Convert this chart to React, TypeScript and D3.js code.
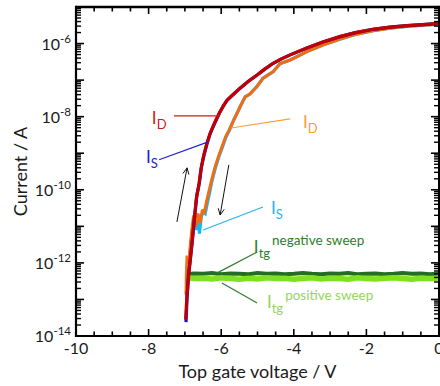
import React, { useEffect, useRef } from "react";
import * as d3 from "d3";

// drain / source currents, exponents of 10 (A) against top gate voltage (V)
const idNegV = [-6.98, -6.95, -6.9, -6.86, -6.8, -6.74, -6.68, -6.62, -6.56, -6.48, -6.4, -6.32, -6.24, -6.16, -6.06, -5.95, -5.84, -5.7, -5.48, -5.25, -5.01, -4.8, -4.57, -4.34, -4.1, -3.64, -3.2, -2.73, -2.3, -1.82, -1.35, -0.88, -0.45, 0];
const idNegLog = [-13.55, -13.0, -12.4, -12.0, -11.4, -10.8, -10.2, -9.9, -9.45, -9.05, -8.75, -8.5, -8.3, -8.12, -7.92, -7.72, -7.55, -7.42, -7.22, -7.03, -6.86, -6.7, -6.54, -6.42, -6.31, -6.12, -5.96, -5.81, -5.7, -5.61, -5.55, -5.51, -5.48, -5.45];

const isNegV = [-6.97, -6.94, -6.9, -6.85, -6.79, -6.73, -6.67, -6.6, -6.54, -6.46, -6.38, -6.3, -6.22, -6.14, -6.05, -5.94, -5.84, -5.7, -5.48, -5.25, -5.01, -4.8, -4.57, -4.34, -4.1, -3.64, -3.2, -2.73, -2.3, -1.82, -1.35, -0.88, -0.45, 0];
const isNegLog = [-13.62, -12.95, -12.3, -11.9, -11.35, -10.7, -10.15, -9.8, -9.35, -9.0, -8.7, -8.45, -8.27, -8.1, -7.9, -7.71, -7.55, -7.42, -7.22, -7.03, -6.86, -6.7, -6.54, -6.42, -6.31, -6.12, -5.96, -5.81, -5.7, -5.61, -5.55, -5.51, -5.48, -5.45];

const idPosV = [-6.97, -6.96, -6.94, -6.9, -6.86, -6.8, -6.76, -6.7, -6.64, -6.58, -6.52, -6.46, -6.4, -6.34, -6.26, -6.17, -6.08, -5.98, -5.88, -5.78, -5.66, -5.56, -5.48, -5.34, -5.21, -5.02, -4.85, -4.57, -4.38, -4.1, -3.64, -3.2, -2.73, -2.3, -1.82, -1.35, -0.88, -0.45, 0];
const idPosLog = [-12.85, -12.3, -11.8, -12.2, -11.6, -11.0, -10.7, -11.0, -10.65, -10.9, -10.55, -10.6, -10.3, -10.05, -9.72, -9.38, -9.1, -8.83, -8.55, -8.36, -8.1, -7.9, -7.73, -7.46, -7.38, -7.18, -6.95, -6.77, -6.55, -6.45, -6.22, -6.04, -5.88, -5.75, -5.65, -5.58, -5.53, -5.5, -5.47];

const isPosV = [-6.96, -6.93, -6.88, -6.84, -6.78, -6.74, -6.68, -6.62, -6.6, -6.55, -6.5, -6.44, -6.38, -6.32, -6.25, -6.16, -6.07, -5.97, -5.87, -5.77, -5.66, -5.56, -5.48, -5.34, -5.21, -5.02, -4.85, -4.57, -4.38, -4.1, -3.64, -3.2, -2.73, -2.3, -1.82, -1.35, -0.88, -0.45, 0];
const isPosLog = [-12.9, -12.25, -12.1, -11.55, -11.05, -10.85, -11.1, -10.8, -11.2, -10.75, -10.6, -10.65, -10.35, -10.08, -9.74, -9.4, -9.11, -8.84, -8.56, -8.37, -8.1, -7.9, -7.73, -7.46, -7.38, -7.18, -6.95, -6.77, -6.55, -6.45, -6.22, -6.04, -5.88, -5.75, -5.65, -5.58, -5.53, -5.5, -5.47];

// top gate leakage
const itgV = [-6.98, -6.75, -6.5, -6.25, -6, -5.75, -5.5, -5.25, -5, -4.75, -4.5, -4.25, -4, -3.75, -3.5, -3.25, -3, -2.75, -2.5, -2.25, -2, -1.75, -1.5, -1.25, -1, -0.75, -0.5, -0.25, 0];
const itgNegLog = [-12.31, -12.29, -12.3, -12.28, -12.31, -12.29, -12.3, -12.31, -12.28, -12.3, -12.29, -12.31, -12.3, -12.28, -12.3, -12.31, -12.29, -12.3, -12.28, -12.31, -12.3, -12.29, -12.31, -12.3, -12.28, -12.3, -12.29, -12.31, -12.29];
const itgPosLog = [-12.4, -12.43, -12.42, -12.44, -12.41, -12.43, -12.45, -12.42, -12.44, -12.41, -12.43, -12.42, -12.45, -12.43, -12.41, -12.44, -12.42, -12.43, -12.45, -12.41, -12.43, -12.44, -12.42, -12.41, -12.43, -12.45, -12.42, -12.43, -12.42];

const xLabels = [-10, -8, -6, -4, -2, 0];
const yLabelExps = [-14, -12, -10, -8, -6];

const App: React.FC = () => {
  const svgRef = useRef<SVGSVGElement | null>(null);

  useEffect(() => {
    const width = 440;
    const height = 386;
    const marginTop = 7;
    const marginRight = 1;
    const marginBottom = 50;
    const marginLeft = 76;
    const font = "Lato, 'Open Sans', sans-serif";

    const x = d3.scaleLinear().domain([-10, 0]).range([marginLeft, width - marginRight]);
    const y = d3.scaleLog().domain([1e-14, 1e-5]).range([height - marginBottom, marginTop]);
    const yl = (e: number) => y(Math.pow(10, e));

    const svg = d3.select(svgRef.current);
    svg.selectAll("*").remove();
    svg.attr("viewBox", [0, 0, width, height]).attr("width", width).attr("height", height);

    const line = d3
      .line<[number, number]>()
      .x((d) => x(d[0]))
      .y((d) => yl(d[1]));

    const series = (vs: number[], ls: number[], color: string, w: number) => {
      svg
        .append("path")
        .datum(vs.map((v, i) => [v, ls[i]] as [number, number]))
        .attr("d", line)
        .attr("fill", "none")
        .attr("stroke", color)
        .attr("stroke-width", w)
        .attr("stroke-linejoin", "miter")
        .attr("stroke-miterlimit", 2);
    };

    // gate currents
    series(itgV, itgNegLog, "#236e23", 4);
    series(itgV, itgPosLog, "#7ee01e", 5.5);

    // drain/source
    series(isPosV, isPosLog, "#1ab4f0", 3.2);
    series(idPosV, idPosLog, "#f26c12", 3);
    series(isNegV, isNegLog, "#1010d8", 3.2);
    series(idNegV, idNegLog, "#c00000", 3.2);

    // frame
    const x0 = x(-10), x1 = x(0), y0 = y(1e-14), y1 = y(1e-5);
    const frame = svg.append("g").attr("stroke", "#000").attr("fill", "none");
    frame.append("line").attr("x1", x0).attr("x2", x1).attr("y1", y0).attr("y2", y0).attr("stroke-width", 2);
    frame.append("line").attr("x1", x0).attr("x2", x1).attr("y1", y1).attr("y2", y1).attr("stroke-width", 2.5);
    frame.append("line").attr("x1", x0).attr("x2", x0).attr("y1", y0 + 1).attr("y2", y1 - 1.2).attr("stroke-width", 2.2);
    frame.append("line").attr("x1", x1).attr("x2", x1).attr("y1", y0 + 1).attr("y2", y1 - 1.2).attr("stroke-width", 2);

    // x ticks
    const xTicks = d3.range(-10, 0.001, 0.5);
    xTicks.forEach((t) => {
      const major = xLabels.includes(t);
      const len = major ? 7 : 4.5;
      frame.append("line").attr("x1", x(t)).attr("x2", x(t)).attr("y1", y0).attr("y2", y0 - len).attr("stroke-width", 1.6);
      frame.append("line").attr("x1", x(t)).attr("x2", x(t)).attr("y1", y1).attr("y2", y1 + len).attr("stroke-width", 1.6);
    });

    // y ticks
    for (let e = -14; e <= -5; e++) {
      const v = Math.pow(10, e);
      frame.append("line").attr("x1", x0).attr("x2", x0 + 8).attr("y1", y(v)).attr("y2", y(v)).attr("stroke-width", 1.6);
      frame.append("line").attr("x1", x1).attr("x2", x1 - 8).attr("y1", y(v)).attr("y2", y(v)).attr("stroke-width", 1.6);
      if (e < -5) {
        for (let k = 2; k <= 9; k++) {
          const m = k * v;
          frame.append("line").attr("x1", x0).attr("x2", x0 + 5).attr("y1", y(m)).attr("y2", y(m)).attr("stroke-width", 1.4);
          frame.append("line").attr("x1", x1).attr("x2", x1 - 5).attr("y1", y(m)).attr("y2", y(m)).attr("stroke-width", 1.4);
        }
      }
    }

    // tick labels
    xLabels.forEach((t) => {
      svg
        .append("text")
        .attr("x", x(t))
        .attr("y", y0 + 18)
        .attr("text-anchor", "middle")
        .attr("font-family", font)
        .attr("font-size", 16)
        .attr("fill", "#1a1a1a")
        .text(t === 0 ? "0" : "-" + Math.abs(t));
    });
    yLabelExps.forEach((e) => {
      const t = svg
        .append("text")
        .attr("x", x0 - 5)
        .attr("y", y(Math.pow(10, e)) + 6)
        .attr("text-anchor", "end")
        .attr("font-family", font)
        .attr("fill", "#1a1a1a");
      t.append("tspan").attr("font-size", 16).text("10");
      t.append("tspan").attr("font-size", 11.5).attr("dy", -7).text("-" + Math.abs(e));
    });

    // axis titles
    svg
      .append("text")
      .attr("x", (x0 + x1) / 2)
      .attr("y", y0 + 42)
      .attr("text-anchor", "middle")
      .attr("font-family", font)
      .attr("font-size", 18)
      .attr("fill", "#1a1a1a")
      .text("Top gate voltage / V");
    svg
      .append("text")
      .attr("transform", `translate(27,${(y0 + y1) / 2}) rotate(-90)`)
      .attr("text-anchor", "middle")
      .attr("font-family", font)
      .attr("font-size", 18)
      .attr("fill", "#1a1a1a")
      .text("Current / A");

    // annotations
    const leader = (va: number, la: number, vb: number, lb: number, color: string) => {
      svg
        .append("line")
        .attr("x1", x(va))
        .attr("y1", yl(la))
        .attr("x2", x(vb))
        .attr("y2", yl(lb))
        .attr("stroke", color)
        .attr("stroke-width", 1.2);
    };
    const label = (v: number, l: number, sub: string, sup: string, color: string) => {
      const t = svg
        .append("text")
        .attr("x", x(v))
        .attr("y", yl(l))
        .attr("font-family", font)
        .attr("fill", color);
      t.append("tspan").attr("font-size", 17).text("I");
      t.append("tspan").attr("font-size", 13).attr("dy", 5).text(sub);
      if (sup) t.append("tspan").attr("font-size", 13.5).attr("dx", 2).attr("dy", -13).text(sup);
    };

    label(-7.91, -8.2, "D", "", "#d01818");
    leader(-7.3, -7.98, -6.03, -7.98, "#d01818");
    label(-8.07, -9.27, "S", "", "#2020d0");
    leader(-7.71, -9.18, -6.36, -8.69, "#2020d0");
    label(-3.75, -8.31, "D", "", "#f8a038");
    leader(-5.73, -8.31, -4.1, -8.06, "#f8a038");
    label(-4.63, -10.66, "S", "", "#28b4ee");
    leader(-6.5, -11.1, -4.85, -10.47, "#28b4ee");
    label(-5.1, -11.73, "tg", "negative sweep", "#2a7f2a");
    leader(-6.12, -12.28, -5.01, -11.7, "#2f7d2f");
    label(-4.74, -13.23, "tg", "positive sweep", "#93d65a");
    leader(-5.98, -12.55, -5.01, -13.1, "#2f7d2f");

    // sweep direction arrows
    const arrow = (va: number, la: number, vb: number, lb: number) => {
      const ax = x(va), ay = yl(la), bx = x(vb), by = yl(lb);
      const ang = Math.atan2(by - ay, bx - ax);
      const h = 7;
      const g = svg.append("g").attr("stroke", "#111").attr("stroke-width", 1).attr("fill", "none");
      g.append("line").attr("x1", ax).attr("y1", ay).attr("x2", bx).attr("y2", by);
      g.append("path").attr(
        "d",
        `M${bx - h * Math.cos(ang - 0.45)},${by - h * Math.sin(ang - 0.45)}L${bx},${by}L${bx - h * Math.cos(ang + 0.45)},${by - h * Math.sin(ang + 0.45)}`,
      );
    };
    arrow(-7.22, -10.88, -6.94, -9.4);
    arrow(-5.79, -9.32, -6.03, -10.69);
  }, []);

  return (
    <div style={{ position: "absolute", left: 0, top: 0, width: 440, height: 386, background: "#fff" }}>
      <svg ref={svgRef} style={{ display: "block" }}></svg>
    </div>
  );
};

export default App;
